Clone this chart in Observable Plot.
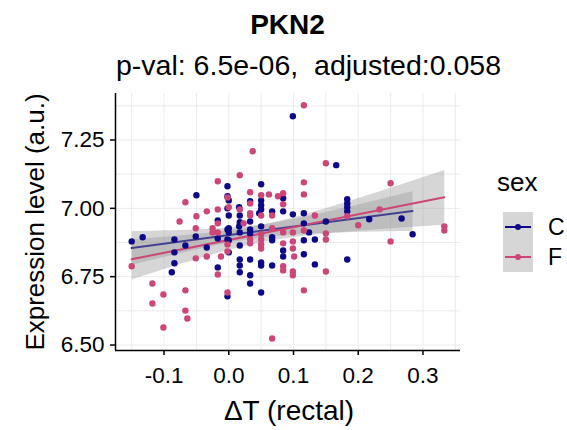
<!DOCTYPE html>
<html><head><meta charset="utf-8">
<script src="https://cdn.jsdelivr.net/npm/d3@7"></script>
<script src="https://cdn.jsdelivr.net/npm/@observablehq/plot@0.6"></script>
<style>
body{margin:0;background:#fff;font-family:"Liberation Sans",Arial,sans-serif;}
#wrap{position:relative;width:567px;height:430px;overflow:hidden;background:#fff}
.t{position:absolute;white-space:nowrap;line-height:1;color:#000}
#plot{position:absolute;left:0;top:85px}
</style></head><body>
<div id="wrap">
  <div class="t" style="left:0;width:575px;text-align:center;top:11px;font-size:28px;font-weight:bold">PKN2</div>
  <div class="t" style="left:116px;top:51px;font-size:28.5px">p-val: 6.5e-06,&nbsp; adjusted:0.058</div>
  <div id="plot"></div>
  <div class="t" style="left:35px;top:222px;font-size:26px;transform:translate(-50%,-50%) rotate(-90deg)">Expression level (a.u.)</div>
  <div class="t" style="left:289px;top:411px;font-size:28px;transform:translate(-50%,-50%)">ΔT (rectal)</div>
  <div class="t" style="left:497px;top:169px;font-size:26px">sex</div>
  <div id="legend" style="position:absolute;left:503px;top:212px"></div>
</div>
<script>
// ---- data ----
const sexes = ["C", "F"];
const sexColors = ["#0d0887", "#cc4678"];
const cX = [-0.002,-0.050,-0.002,-0.002,-0.017,0.099,0.166,0.050,0.084,0.033,0.050,0.050,0.050,0.067,0.084,0.099,0.116,0.017,0.033,0.017,0.150,0.183,0.183,0.183,0.183,0.217,0.267,0.284,0.183,-0.002,-0.150,-0.133,-0.084,-0.051,-0.017,-0.002,-0.067,-0.034,-0.084,-0.084,-0.017,-0.088,-0.002,0.000,0.000,0.017,0.033,0.033,0.017,0.000,0.050,0.067,0.067,0.084,0.084,0.116,0.116,0.116,0.133,0.017,0.017,0.017,0.033,0.033,0.033,0.050,0.050,0.067,0.133,0.050,0.000,0.016,0.047,0.016,0.000,0.124,0.000];
const cY = [7.081,7.048,7.044,7.000,6.956,7.337,7.158,7.088,7.037,7.026,7.029,7.011,6.996,6.989,6.989,6.978,6.982,6.974,6.952,6.949,6.952,7.033,7.018,7.004,6.989,6.960,6.963,6.905,6.813,6.923,6.879,6.894,6.886,6.897,6.890,6.886,6.864,6.857,6.839,6.799,6.784,6.766,6.678,6.927,6.912,6.912,6.923,6.908,6.864,6.883,6.934,6.894,6.883,6.846,6.824,6.945,6.883,6.832,6.886,6.813,6.791,6.766,6.813,6.755,6.725,6.802,6.791,6.791,6.795,6.692,6.974,7.004,6.982,6.934,7.029,6.912,6.839];
const fX = [-0.017,-0.067,-0.002,-0.034,-0.050,-0.017,-0.076,-0.017,0.116,0.037,0.150,0.017,0.116,0.116,0.033,0.050,0.062,0.076,0.084,0.000,0.017,0.033,0.084,0.133,0.033,0.050,0.067,0.250,0.183,0.233,0.200,0.333,0.333,0.250,-0.051,-0.025,-0.025,-0.002,-0.002,-0.150,-0.051,-0.034,-0.012,-0.017,-0.118,-0.101,-0.067,-0.002,-0.118,-0.067,-0.064,-0.101,0.033,0.033,0.050,0.050,0.050,0.050,0.067,0.084,0.084,0.099,0.099,0.099,0.116,0.150,0.150,0.084,0.084,0.099,0.099,0.116,0.150,0.067,0.033,-0.017,0.023,0.101];
const fY = [7.099,7.022,7.040,6.989,6.971,6.996,6.952,6.945,7.377,7.209,7.165,7.121,7.095,7.051,7.059,7.048,7.051,7.044,7.055,7.004,6.996,7.018,7.015,6.974,6.974,6.974,6.974,7.092,6.971,6.996,6.938,6.934,6.919,6.879,6.927,6.927,6.912,6.868,6.842,6.788,6.817,6.824,6.824,6.758,6.725,6.685,6.700,6.692,6.652,6.626,6.597,6.564,6.886,6.872,6.905,6.886,6.868,6.853,6.927,6.912,6.872,6.912,6.879,6.853,6.919,6.908,6.886,6.788,6.773,6.769,6.755,6.700,6.769,6.524,6.982,6.912,6.945,6.824];
const xTicks = [-0.1, 0.0, 0.1, 0.2, 0.3];
const xTickLabels = ["-0.1", "0.0", "0.1", "0.2", "0.3"];
const yTicks = [6.50, 6.75, 7.00, 7.25];
const yTickLabels = ["6.50", "6.75", "7.00", "7.25"];
const xGrid = [-0.15, -0.1, -0.05, 0, 0.05, 0.1, 0.15, 0.2, 0.25, 0.3, 0.35];
const yGrid = [6.5, 6.625, 6.75, 6.875, 7.0, 7.125, 7.25, 7.375];
const xDomain = [-0.175, 0.358];
const yDomain = [6.48, 7.42];

const data = [
  ...cX.map((x, i) => ({x, y: cY[i], sex: "C"})),
  ...fX.map((x, i) => ({x, y: fY[i], sex: "F"}))
];

const chart = Plot.plot({
  width: 567, height: 345,
  marginLeft: 115, marginRight: 107, marginTop: 8, marginBottom: 80,
  style: {fontFamily: "'Liberation Sans', Arial, sans-serif", fontSize: "22.5px", color: "black", background: "white"},
  x: {domain: xDomain},
  y: {domain: yDomain},
  color: {domain: sexes, range: sexColors},
  marks: [
    Plot.gridX(xGrid, {stroke: "#ebebeb", strokeOpacity: 1, strokeWidth: 1}),
    Plot.gridY(yGrid, {stroke: "#ebebeb", strokeOpacity: 1, strokeWidth: 1}),
    Plot.linearRegressionY(data, {x: "x", y: "y", z: "sex", stroke: "sex", fill: "#999999", fillOpacity: 0.4, strokeWidth: 2, ci: 0.95}),
    Plot.dot(data, {x: "x", y: "y", fill: "sex", r: 3.2, stroke: "none"}),
    Plot.ruleX([xDomain[0]], {stroke: "black", strokeWidth: 1.5}),
    Plot.ruleY([yDomain[0]], {stroke: "black", strokeWidth: 1.5}),
    Plot.axisX({ticks: xTicks, tickFormat: (d) => xTickLabels[xTicks.indexOf(d)], tickSize: 5, tickPadding: 12, label: null, strokeWidth: 1.5}),
    Plot.axisY({ticks: yTicks, tickFormat: (d) => yTickLabels[yTicks.indexOf(d)], tickSize: 5, tickPadding: 6, label: null, strokeWidth: 1.5})
  ]
});
document.getElementById("plot").appendChild(chart);

// legend keys
const lg = d3.select("#legend").append("svg").attr("width", 64).attr("height", 62);
lg.append("rect").attr("x", 0).attr("y", 0).attr("width", 30).attr("height", 60).attr("fill", "#d6d6d6");
sexes.forEach((s, i) => {
  const cy = 15 + i * 30;
  lg.append("line").attr("x1", 2).attr("x2", 28).attr("y1", cy).attr("y2", cy).attr("stroke", sexColors[i]).attr("stroke-width", 2);
  lg.append("circle").attr("cx", 15).attr("cy", cy).attr("r", 3).attr("fill", sexColors[i]);
  lg.append("text").attr("x", 45).attr("y", cy).attr("dy", "0.36em").attr("font-size", 23).attr("font-family", "'Liberation Sans', Arial, sans-serif").text(s);
});
</script>
</body></html>
